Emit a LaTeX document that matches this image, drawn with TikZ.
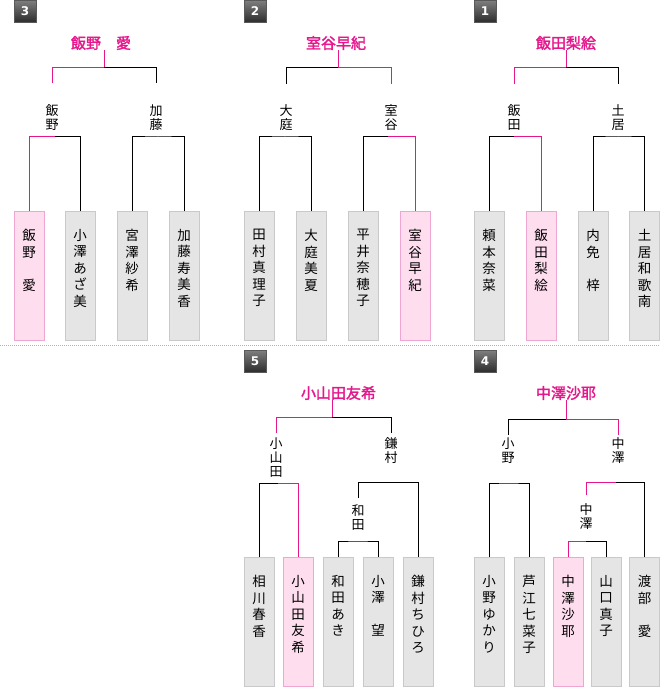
\documentclass[tikz,border=0pt]{standalone}
\usepackage{fontspec}
\newfontfamily\jp{Noto Sans CJK JP}[AutoFakeBold=2]
\newfontfamily\num{DejaVu Sans}
\definecolor{pk}{RGB}{230,22,140}
\definecolor{pkfill}{RGB}{253,221,238}
\definecolor{pkline}{RGB}{240,166,210}
\definecolor{grfill}{RGB}{229,229,229}
\definecolor{grline}{RGB}{201,201,201}
\newcommand{\tate}[1]{\parbox[c][125pt][t]{20pt}{\centering\vspace*{16pt}#1}}

\begin{document}
\begin{tikzpicture}[x=1pt,y=-1pt,
  ent/.style={draw=grline,fill=grfill,minimum width=30pt,minimum height=129pt,
    inner sep=0pt,anchor=north,font=\jp\fontsize{13.5}{16.5}\selectfont},
  entw/.style={ent,draw=pkline,fill=pkfill},
  champ/.style={inner sep=0pt,text=pk,font=\jp\bfseries\fontsize{15}{15}\selectfont},
  sub/.style={inner sep=0pt,align=center,font=\jp\fontsize{13}{14}\selectfont},
  bl/.style={line width=1pt},
  pl/.style={line width=1pt,draw=pk},
  badge/.style={minimum size=22pt,inner sep=0pt,top color=black!50,bottom color=black!82,
    draw=black!65,text=white,font=\num\bfseries\fontsize{12}{12}\selectfont}]
  \useasboundingbox (0,0) rectangle (660,687);
  \draw[black!30,dash pattern=on 1pt off 1pt] (0,345.5) -- (660,345.5);

  % 3
  \begin{scope}
    \node[badge] (n3) at (25,11) {3};
    \node[champ] (t3) at (101,43) {飯野　愛};
    \node[sub] (s3a) at (52,118) {飯\\野};
    \node[sub] (s3b) at (156,118) {加\\藤};
    \node[entw] (b3a) at (29,211) {\tate{飯\\野\\　\\愛}};
    \node[ent] (b3b) at (80,211) {\tate{小\\澤\\あ\\ざ\\美}};
    \node[ent] (b3c) at (132,211) {\tate{宮\\澤\\紗\\希}};
    \node[ent] (b3d) at (184,211) {\tate{加\\藤\\寿\\美\\香}};
    \coordinate (j3) at (104,68);
    \coordinate (l3a) at (52,83); \coordinate (l3b) at (156,83);
    \coordinate (j3a) at (54.5,137); \coordinate (j3b) at (158,137);
    \draw[pl] (t3.south -| j3) -- (j3) -| (l3a);
    \draw[bl] (j3) -| (l3b);
    \draw[pl] (b3a.north) |- (j3a);
    \draw[bl] (j3a) -| (b3b.north);
    \draw[bl] (b3c.north) |- (j3b) -| (b3d.north);
  \end{scope}

  % 2
  \begin{scope}[xshift=230pt]
    \node[badge] (n2) at (25,11) {2};
    \node[champ] (t2) at (106,43) {室谷早紀};
    \node[sub] (s2a) at (56,118) {大\\庭};
    \node[sub] (s2b) at (161,118) {室\\谷};
    \node[ent] (b2a) at (29,211) {\tate{田\\村\\真\\理\\子}};
    \node[ent] (b2b) at (81,211) {\tate{大\\庭\\美\\夏}};
    \node[ent] (b2c) at (133,211) {\tate{平\\井\\奈\\穂\\子}};
    \node[entw] (b2d) at (185,211) {\tate{室\\谷\\早\\紀}};
    \coordinate (j2) at (108,68);
    \coordinate (l2a) at (56,84); \coordinate (l2b) at (161,84);
    \coordinate (j2a) at (55,137); \coordinate (j2b) at (158,137);
    \draw[pl] (t2.south -| j2) -- (j2) -| (l2b);
    \draw[bl] (j2) -| (l2a);
    \draw[bl] (b2a.north) |- (j2a) -| (b2b.north);
    \draw[bl] (b2c.north) |- (j2b);
    \draw[pl] (j2b) -| (b2d.north);
  \end{scope}

  % 1
  \begin{scope}[xshift=460pt]
    \node[badge] (n1) at (25,11) {1};
    \node[champ] (t1) at (106,43) {飯田梨絵};
    \node[sub] (s1a) at (54,118) {飯\\田};
    \node[sub] (s1b) at (158,118) {土\\居};
    \node[ent] (b1a) at (29,211) {\tate{頼\\本\\奈\\菜}};
    \node[entw] (b1b) at (81,211) {\tate{飯\\田\\梨\\絵}};
    \node[ent] (b1c) at (133,211) {\tate{内\\免\\　\\梓}};
    \node[ent] (b1d) at (184.5,211) {\tate{土\\居\\和\\歌\\南}};
    \coordinate (j1) at (106,68);
    \coordinate (l1a) at (54,84); \coordinate (l1b) at (158,84);
    \coordinate (j1a) at (54,137); \coordinate (j1b) at (158,137);
    \draw[pl] (t1.south -| j1) -- (j1) -| (l1a);
    \draw[bl] (j1) -| (l1b);
    \draw[bl] (b1a.north) |- (j1a);
    \draw[pl] (j1a) -| (b1b.north);
    \draw[bl] (b1c.north) |- (j1b) -| (b1d.north);
  \end{scope}

  % 5
  \begin{scope}[shift={(230,340)}]
    \node[badge] (n5) at (25,21) {5};
    \node[champ] (t5) at (108.5,53) {小山田友希};
    \node[sub] (s5a) at (46,117.5) {小\\山\\田};
    \node[sub] (s5b) at (161,111) {鎌\\村};
    \node[sub] (s5c) at (128,177.5) {和\\田};
    \node[ent] (b5a) at (29,217) {\tate{相\\川\\春\\香}};
    \node[entw] (b5b) at (68,217) {\tate{小\\山\\田\\友\\希}};
    \node[ent] (b5c) at (108,217) {\tate{和\\田\\あ\\き}};
    \node[ent] (b5d) at (148,217) {\tate{小\\澤\\　\\望}};
    \node[ent] (b5e) at (188,217) {\tate{鎌\\村\\ち\\ひ\\ろ}};
    \coordinate (j5) at (102,77);
    \coordinate (l5a) at (46,93); \coordinate (l5b) at (161,93);
    \coordinate (j5a) at (48,143); \coordinate (j5b) at (128,142);
    \coordinate (l5c) at (128,158); \coordinate (j5c) at (127.5,201);
    \draw[pl] (t5.south -| j5) -- (j5) -| (l5a);
    \draw[bl] (j5) -| (l5b);
    \draw[bl] (b5a.north) |- (j5a);
    \draw[pl] (j5a) -| (b5b.north);
    \draw[bl] (l5c) |- (j5b) -| (b5e.north);
    \draw[bl] (b5c.north) |- (j5c) -| (b5d.north);
  \end{scope}

  % 4
  \begin{scope}[shift={(460,340)}]
    \node[badge] (n4) at (25,21) {4};
    \node[champ] (t4) at (106,53) {中澤沙耶};
    \node[sub] (s4a) at (48,111) {小\\野};
    \node[sub] (s4b) at (158,111) {中\\澤};
    \node[sub] (s4c) at (126,177) {中\\澤};
    \node[ent] (b4a) at (29,217) {\tate{小\\野\\ゆ\\か\\り}};
    \node[ent] (b4b) at (69,217) {\tate{芦\\江\\七\\菜\\子}};
    \node[entw] (b4c) at (108,217) {\tate{中\\澤\\沙\\耶}};
    \node[ent] (b4d) at (146,217) {\tate{山\\口\\真\\子}};
    \node[ent] (b4e) at (184.5,217) {\tate{渡\\部\\　\\愛}};
    \coordinate (j4) at (106,79);
    \coordinate (l4a) at (48,95); \coordinate (l4b) at (158,95);
    \coordinate (j4a) at (48,143); \coordinate (j4b) at (156,142);
    \coordinate (l4c) at (126,155); \coordinate (j4c) at (126,201);
    \draw[pl] (t4.south -| j4) -- (j4) -| (l4b);
    \draw[bl] (j4) -| (l4a);
    \draw[bl] (b4a.north) |- (j4a) -| (b4b.north);
    \draw[pl] (l4c) |- (j4b);
    \draw[bl] (j4b) -| (b4e.north);
    \draw[pl] (b4c.north) |- (j4c);
    \draw[bl] (j4c) -| (b4d.north);
  \end{scope}
\end{tikzpicture}
\end{document}
